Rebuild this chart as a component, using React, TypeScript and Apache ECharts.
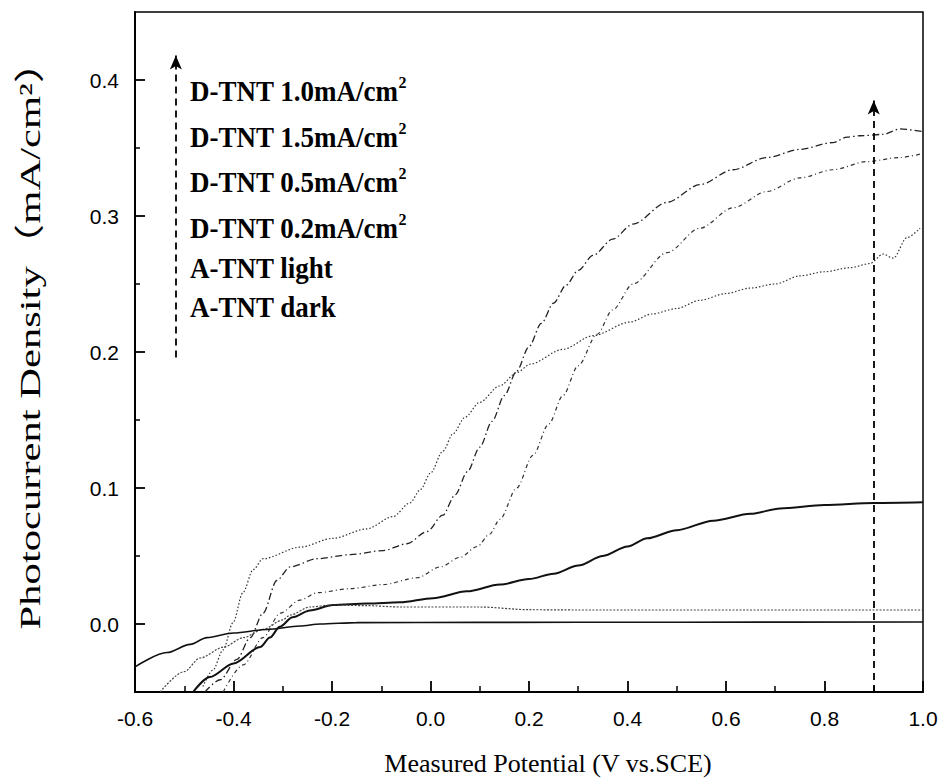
import React, { useEffect, useRef } from 'react';
import * as echarts from 'echarts';

// ---- data ----
const xD10 = [-0.458, -0.427, -0.393, -0.366, -0.34, -0.312, -0.285, -0.23, -0.163, -0.096, -0.048, -0.007, 0.025, 0.05, 0.075, 0.1, 0.125, 0.15, 0.175, 0.2, 0.225, 0.25, 0.275, 0.3, 0.33, 0.37, 0.411, 0.48, 0.547, 0.614, 0.683, 0.75, 0.817, 0.846, 0.872, 0.919, 0.953, 1.0];
const yD10 = [-0.05, -0.041, -0.026, -0.01, 0.008, 0.032, 0.042, 0.048, 0.051, 0.054, 0.059, 0.068, 0.08, 0.095, 0.112, 0.13, 0.149, 0.168, 0.186, 0.204, 0.221, 0.236, 0.249, 0.26, 0.271, 0.283, 0.294, 0.31, 0.323, 0.334, 0.343, 0.349, 0.354, 0.358, 0.359, 0.36, 0.364, 0.362];

const xD15 = [-0.421, -0.38, -0.34, -0.305, -0.265, -0.23, -0.163, -0.096, -0.027, 0.02, 0.06, 0.095, 0.12, 0.141, 0.175, 0.208, 0.24, 0.269, 0.3, 0.338, 0.37, 0.411, 0.48, 0.547, 0.614, 0.683, 0.75, 0.817, 0.886, 0.953, 1.0];
const yD15 = [-0.05, -0.03, -0.01, 0.008, 0.0176, 0.023, 0.026, 0.029, 0.034, 0.042, 0.049, 0.057, 0.066, 0.077, 0.1, 0.124, 0.147, 0.168, 0.19, 0.213, 0.231, 0.25, 0.273, 0.291, 0.306, 0.318, 0.328, 0.334, 0.34, 0.343, 0.346];

const xD05 = [-0.462, -0.442, -0.421, -0.401, -0.381, -0.36, -0.34, -0.265, -0.198, -0.129, -0.076, -0.042, -0.02, 0.0, 0.025, 0.046, 0.07, 0.1, 0.14, 0.176, 0.202, 0.269, 0.33, 0.405, 0.45, 0.5, 0.547, 0.6, 0.649, 0.7, 0.75, 0.8, 0.852, 0.892, 0.919, 0.94, 0.967, 0.994];
const yD05 = [-0.046, -0.034, -0.019, 0.001, 0.023, 0.04, 0.048, 0.0565, 0.063, 0.07, 0.079, 0.089, 0.099, 0.111, 0.127, 0.14, 0.152, 0.163, 0.175, 0.185, 0.191, 0.202, 0.212, 0.222, 0.228, 0.232, 0.238, 0.243, 0.247, 0.25, 0.256, 0.259, 0.262, 0.265, 0.272, 0.269, 0.284, 0.291];

const xD02 = [-0.482, -0.448, -0.4, -0.346, -0.326, -0.306, -0.28, -0.245, -0.198, -0.129, -0.062, 0.005, 0.074, 0.141, 0.2, 0.25, 0.3, 0.35, 0.4, 0.44, 0.5, 0.574, 0.65, 0.71, 0.8, 0.9, 1.0];
const yD02 = [-0.05, -0.039, -0.029, -0.017, -0.01, -0.002, 0.005, 0.01, 0.014, 0.015, 0.016, 0.019, 0.024, 0.029, 0.033, 0.037, 0.043, 0.05, 0.057, 0.063, 0.069, 0.076, 0.081, 0.085, 0.0875, 0.089, 0.0895];

const xLight = [-0.549, -0.5, -0.468, -0.42, -0.38, -0.34, -0.3, -0.285, -0.245, -0.2, -0.13, -0.06, 0.1, 0.2, 0.3, 1.0];
const yLight = [-0.05, -0.035, -0.025, -0.017, -0.01, -0.004, 0.003, 0.0066, 0.0125, 0.014, 0.0135, 0.0125, 0.0125, 0.0105, 0.0103, 0.0103];

const xDark = [-0.6, -0.535, -0.488, -0.454, -0.4, -0.332, -0.265, -0.224, -0.15, 0.1, 0.5, 1.0];
const yDark = [-0.0315, -0.021, -0.015, -0.01, -0.0066, -0.004, -0.0015, 0.0, 0.001, 0.0012, 0.0013, 0.0015];

const legendMain = ['D-TNT 1.0mA/cm', 'D-TNT 1.5mA/cm', 'D-TNT 0.5mA/cm', 'D-TNT 0.2mA/cm', 'A-TNT light', 'A-TNT dark'];
const legendSup = ['2', '2', '2', '2', '', ''];

const yMajorTicks = [0, 0.1, 0.2, 0.3, 0.4];
const yMinorTicks = [0.05, 0.15, 0.25, 0.35];

// arrows (data coords)
const leftArrow = { x: -0.517, y0: 0.196, y1: 0.418 };
const rightArrow = { x: 0.9, y0: -0.05, y1: 0.385 };

const zip = (xs: number[], ys: number[]) => xs.map((x, i) => [x, ys[i]]);

export default function App() {
  const ref = useRef<HTMLDivElement>(null);
  useEffect(() => {
    if (!ref.current) return;
    const chart = echarts.init(ref.current, undefined, { renderer: 'svg' });
    const lineBase = (name: string, data: number[][], style: any) => ({
      name,
      type: 'line',
      data,
      showSymbol: false,
      symbol: 'none',
      smooth: 0.3,
      smoothMonotone: 'x',
      clip: true,
      lineStyle: style,
      z: 3,
    });
    const rowY = [91, 137, 182, 228, 268, 307];
    chart.setOption({
      animation: false,
      backgroundColor: '#fff',
      grid: { left: 135, right: 19, top: 12, bottom: 92, show: true, borderColor: '#000', borderWidth: 1.5 },
      xAxis: {
        type: 'value',
        min: -0.6,
        max: 1.0,
        interval: 0.2,
        axisLine: { show: true, onZero: false, lineStyle: { color: '#000', width: 2 } },
        axisTick: { inside: true, length: 11, lineStyle: { color: '#000', width: 1.8 } },
        minorTick: { show: true, splitNumber: 2, length: 6, lineStyle: { color: '#000', width: 1.5 } },
        axisLabel: {
          formatter: (v: number) => v.toFixed(1),
          fontSize: 21,
          fontFamily: 'Liberation Sans',
          color: '#000',
          margin: 16,
        },
        splitLine: { show: false },
      },
      yAxis: [
        {
          type: 'value',
          min: -0.05,
          max: 0.45,
          axisLine: { show: true, onZero: false, lineStyle: { color: '#000', width: 2 } },
          axisTick: { inside: true, length: 10, customValues: yMajorTicks, lineStyle: { color: '#000', width: 1.8 } },
          axisLabel: {
            customValues: yMajorTicks,
            formatter: (v: number) => v.toFixed(1),
            fontSize: 21,
            fontFamily: 'Liberation Sans',
            color: '#000',
            margin: 16,
          },
          splitLine: { show: false },
        },
        {
          type: 'value',
          min: -0.05,
          max: 0.45,
          position: 'left',
          axisLine: { show: false, onZero: false },
          axisTick: { inside: true, length: 5, customValues: yMinorTicks, lineStyle: { color: '#000', width: 1.5 } },
          axisLabel: { show: false },
          splitLine: { show: false },
        },
      ],
      graphic: [
        {
          type: 'text',
          x: 30,
          y: 335,
          rotation: Math.PI / 2,
          scaleX: 1.42,
          style: {
            text: 'Photocurrent Density（mA/cm²）',
            font: '30px "Liberation Serif", "Noto Sans CJK SC"',
            fill: '#000',
            textAlign: 'center',
            textVerticalAlign: 'middle',
          },
        },
        {
          type: 'text',
          x: 548,
          y: 763,
          style: {
            text: 'Measured Potential (V vs.SCE)',
            font: '26px "Liberation Serif"',
            fill: '#000',
            textAlign: 'center',
            textVerticalAlign: 'middle',
          },
        },
        ...legendMain.map((t, i) => ({
          type: 'text',
          x: 190,
          y: rowY[i],
          scaleY: 1.1,
          style: {
            text: legendSup[i] ? `{m|${t}}{s|${legendSup[i]}}` : `{m|${t}}`,
            rich: {
              m: { font: 'bold 27px "Liberation Serif"', fill: '#000' },
              s: { font: 'bold 16px "Liberation Serif"', fill: '#000', padding: [0, 0, 16, 0] },
            },
            textAlign: 'left',
            textVerticalAlign: 'middle',
          },
        })),
      ],
      series: [
        {
          ...lineBase('D-TNT 1.0mA/cm²', zip(xD10, yD10), { color: '#222', width: 1.3, type: [7, 3, 1.5, 3] }),
          markLine: {
            silent: true,
            symbol: ['none', 'arrow'],
            symbolSize: [9, 14],
            label: { show: false },
            lineStyle: { color: '#000', width: 1.8, type: [7, 5] },
            data: [
              [{ coord: [leftArrow.x, leftArrow.y0] }, { coord: [leftArrow.x, leftArrow.y1] }],
              [{ coord: [rightArrow.x, rightArrow.y0] }, { coord: [rightArrow.x, rightArrow.y1] }],
            ],
          },
        },
        lineBase('D-TNT 1.5mA/cm²', zip(xD15, yD15), { color: '#333', width: 1.2, type: [4, 3, 1, 3] }),
        lineBase('D-TNT 0.5mA/cm²', zip(xD05, yD05), { color: '#333', width: 1.2, type: [1.5, 2] }),
        lineBase('D-TNT 0.2mA/cm²', zip(xD02, yD02), { color: '#111', width: 2 }),
        lineBase('A-TNT light', zip(xLight, yLight), { color: '#444', width: 1.2, type: [2, 1.5] }),
        lineBase('A-TNT dark', zip(xDark, yDark), { color: '#111', width: 1.6 }),
      ],
    });
    return () => chart.dispose();
  }, []);
  return <div ref={ref} style={{ position: 'fixed', left: 0, top: 0, width: 942, height: 784, background: '#fff' }} />;
}
